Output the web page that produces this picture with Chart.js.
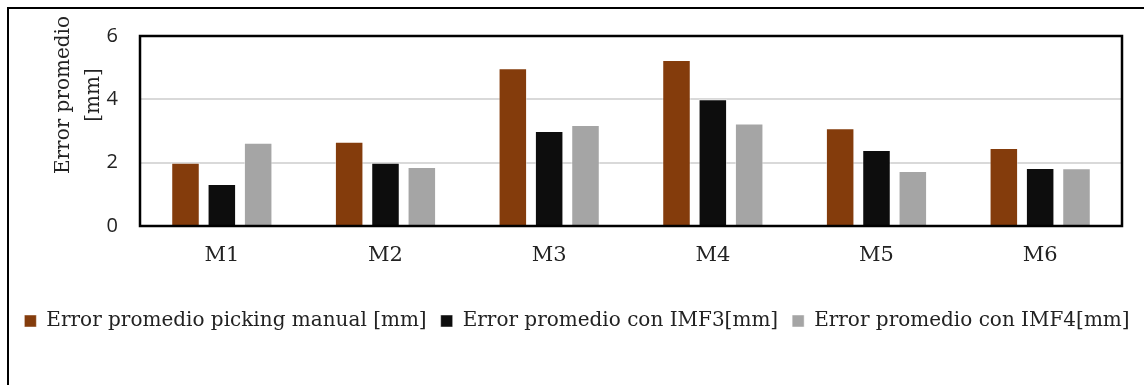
<!DOCTYPE html>
<html>
<head>
<meta charset="utf-8">
<script src="https://cdn.jsdelivr.net/npm/chart.js@4.4.1/dist/chart.umd.min.js"></script>
<style>
  html, body { margin: 0; padding: 0; background: #fff; }
  #wrap { position: relative; width: 1144px; height: 385px; }
</style>
</head>
<body>
<div id="wrap"><canvas id="chart"></canvas></div>
<script>
const categories = ['M1', 'M2', 'M3', 'M4', 'M5', 'M6'];
const manualPicking = [2.0, 2.66, 4.98, 5.24, 3.09, 2.46];
const conIMF3 = [1.33, 2.0, 3.0, 4.0, 2.4, 1.83];
const conIMF4 = [2.63, 1.86, 3.19, 3.24, 1.74, 1.82];
const seriesNames = [
  'Error promedio picking manual [mm]',
  'Error promedio con IMF3[mm]',
  'Error promedio con IMF4[mm]'
];
const yTitle = ['Error promedio', '[mm]'];

const serif = "'DejaVu Serif', serif";

// marco del gráfico, borde del área de trazado y título del eje Y
const frame = {
  id: 'frame',
  afterDraw(chart) {
    const { ctx, chartArea: a } = chart;
    ctx.save();
    ctx.strokeStyle = '#000';
    ctx.lineWidth = 2;
    ctx.beginPath();
    ctx.moveTo(8, 385);
    ctx.lineTo(8, 8);
    ctx.lineTo(1144, 8);
    ctx.stroke();
    ctx.lineWidth = 2.5;
    ctx.strokeRect(a.left, a.top, a.right - a.left, a.bottom - a.top);

    ctx.fillStyle = '#222';
    ctx.font = '20px ' + serif;
    ctx.textAlign = 'center';
    ctx.textBaseline = 'middle';
    ctx.translate(a.left - 76, a.top + 59);
    ctx.rotate(-Math.PI / 2);
    ctx.fillText(yTitle[0], 0, 0);
    ctx.fillText(yTitle[1], 0, 30);
    ctx.restore();
  }
};

const ctx = document.getElementById('chart').getContext('2d');
const myChart = new Chart(ctx, {
  type: 'bar',
  data: {
    labels: categories,
    datasets: [
      { label: seriesNames[0], data: manualPicking, backgroundColor: '#843C0C' },
      { label: seriesNames[1], data: conIMF3, backgroundColor: '#0D0D0D' },
      { label: seriesNames[2], data: conIMF4, backgroundColor: '#A5A5A5' }
    ].map(d => Object.assign(d, {
      borderColor: 'rgba(255,255,255,0.45)',
      borderWidth: 1,
      barPercentage: 0.785,
      categoryPercentage: 0.666
    }))
  },
  options: {
    responsive: true,
    maintainAspectRatio: false,
    animation: false,
    layout: { padding: { left: 10, right: 0, top: 36, bottom: 44 } },
    plugins: {
      legend: {
        position: 'bottom',
        labels: {
          boxWidth: 12,
          boxHeight: 12,
          padding: 14,
          color: '#222',
          font: { family: serif, size: 20 }
        }
      },
      tooltip: { enabled: false }
    },
    scales: {
      x: {
        grid: { display: false },
        border: { display: false },
        ticks: { color: '#222', padding: 9, font: { family: serif, size: 21 } },
        afterFit(scale) { scale.height = 71; }
      },
      y: {
        min: 0,
        max: 6,
        ticks: { stepSize: 2, color: '#222', padding: 22, font: { family: "'Open Sans', sans-serif", size: 20 } },
        grid: { color: '#d9d9d9', lineWidth: 2, drawTicks: false },
        border: { display: false },
        afterFit(scale) { scale.width = 130; }
      },
      // margen derecho del área de trazado
      yRight: {
        position: 'right',
        grid: { display: false },
        border: { display: false },
        ticks: { display: false },
        afterFit(scale) { scale.width = 22; }
      }
    }
  },
  plugins: [frame]
});
</script>
</body>
</html>
